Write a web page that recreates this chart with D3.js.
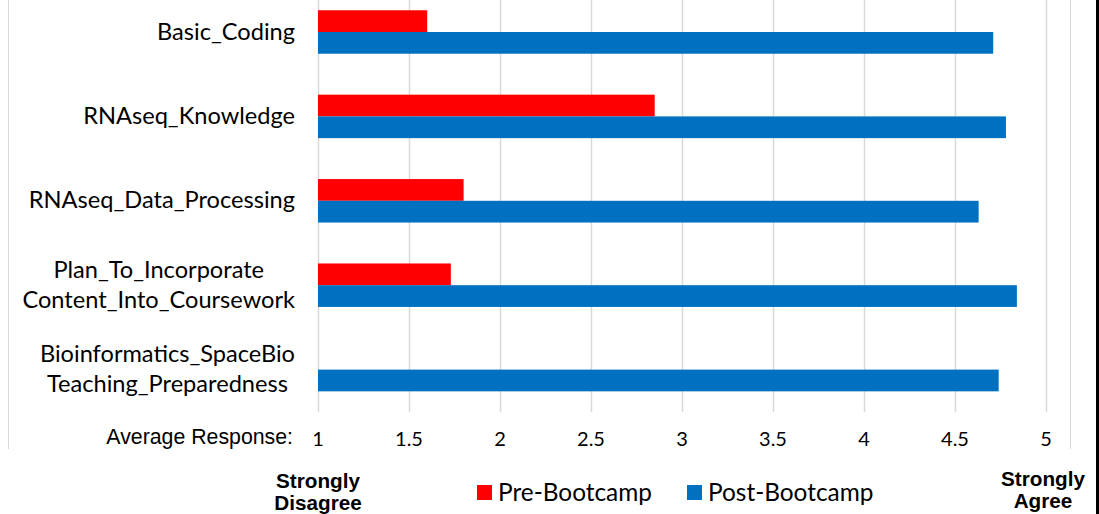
<!DOCTYPE html>
<meta charset="utf-8">
<style>
body { margin: 0; background: #fff; }
.cat { font-family: Lato, "Open Sans", sans-serif; font-size: 23.6px; fill: #000; }
.legend-text { font-family: Lato, "Open Sans", sans-serif; font-size: 24.4px; fill: #000; }
.tick-label { font-family: Lato, sans-serif; font-size: 20px; fill: #000; }
.note { font-family: "Liberation Sans", Arial, sans-serif; }
</style>
<svg width="1099" height="514"></svg>
<script src="https://d3js.org/d3.v7.min.js"></script>
<script>

// survey items, top to bottom
var categories = [
  ["Basic_Coding"],
  ["RNAseq_Knowledge"],
  ["RNAseq_Data_Processing"],
  ["Plan_To_Incorporate", "Content_Into_Coursework"],
  ["Bioinformatics_SpaceBio", "Teaching_Preparedness"]
];
var series = ["Pre-Bootcamp", "Post-Bootcamp"];
var preValues  = [1.6, 2.85, 1.8, 1.73, null];   // no pre score for the last item
var postValues = [4.71, 4.78, 4.63, 4.84, 4.74];
var ticks = [1, 1.5, 2, 2.5, 3, 3.5, 4, 4.5, 5];
var colors = ["#ff0000", "#0070c0"];

var svg = d3.select("svg");

var x = d3.scaleLinear().domain([1, 5]).range([318, 1046]);
var keys = categories.map(function(d) { return d.join(" "); });
var y = d3.scaleBand().domain(keys).range([-10.2, 411.8])
    .paddingInner(0.485).paddingOuter(0.2425);
var ySub = d3.scaleBand().domain(series).range([0, y.bandwidth()]);
var color = d3.scaleOrdinal().domain(series).range(colors);

// frame lines
svg.append("line").attr("x1", 8.5).attr("x2", 8.5).attr("y1", 0).attr("y2", 449)
    .attr("stroke", "#d9d9d9");
svg.append("line").attr("x1", 1070.5).attr("x2", 1070.5).attr("y1", 0).attr("y2", 449)
    .attr("stroke", "#d9d9d9");
svg.append("rect").attr("x", 1096).attr("y", 0).attr("width", 3).attr("height", 514)
    .attr("fill", "#000");

// gridlines
svg.append("g").selectAll("line")
  .data(ticks)
  .enter().append("line")
    .attr("x1", function(d) { return Math.round(x(d)) + 0.5; })
    .attr("x2", function(d) { return Math.round(x(d)) + 0.5; })
    .attr("y1", 0)
    .attr("y2", 412)
    .attr("stroke", "#d9d9d9")
    .attr("stroke-width", 1.5);

// bars
var rows = categories.map(function(c, i) {
  return { key: keys[i], values: [preValues[i], postValues[i]] };
});

var groups = svg.append("g").selectAll("g")
  .data(rows)
  .enter().append("g")
    .attr("transform", function(d) { return "translate(0," + y(d.key) + ")"; });

groups.selectAll("rect")
  .data(function(d) {
    return series.map(function(s, j) { return { s: s, v: d.values[j] }; })
      .filter(function(e) { return e.v != null; });
  })
  .enter().append("rect")
    .attr("x", x(1))
    .attr("y", function(d) { return ySub(d.s); })
    .attr("width", function(d) { return x(d.v) - x(1); })
    .attr("height", ySub.bandwidth())
    .attr("fill", function(d) { return color(d.s); });

// category labels (multi-line ones are centred within their block)
var labelRight = 295;
var labels = svg.append("g").selectAll("g")
  .data(categories)
  .enter().append("g");

labels.each(function(lines, i) {
  var g = d3.select(this);
  var cy = y(keys[i]) + y.bandwidth() / 2;
  var texts = g.selectAll("text").data(lines).enter().append("text")
      .attr("class", "cat")
      .attr("y", function(d, k) { return cy + 7.5 + (k - (lines.length - 1) / 2) * 30; })
      .text(function(d) { return d; });
  var w = 0;
  texts.each(function() { w = Math.max(w, this.getComputedTextLength()); });
  texts.attr("x", labelRight - w / 2).attr("text-anchor", "middle");
});

// x tick labels
svg.append("g").selectAll("text")
  .data(ticks)
  .enter().append("text")
    .attr("class", "tick-label")
    .attr("x", function(d) { return x(d); })
    .attr("y", 446)
    .attr("text-anchor", "middle")
    .text(function(d) { return d; });

svg.append("text")
    .attr("class", "note")
    .attr("x", 293)
    .attr("y", 444)
    .attr("text-anchor", "end")
    .attr("font-size", "21.3px")
    .text("Average Response:");

// scale end notes
function endNote(cx, y0, lines) {
  svg.append("g").selectAll("text")
    .data(lines)
    .enter().append("text")
      .attr("class", "note")
      .attr("x", cx)
      .attr("y", function(d, k) { return y0 + k * 22; })
      .attr("text-anchor", "middle")
      .attr("font-size", "20.7px")
      .attr("font-weight", "bold")
      .text(function(d) { return d; });
}
endNote(318, 488, ["Strongly", "Disagree"]);
endNote(1043, 486, ["Strongly", "Agree"]);

// legend
var legendX = [477, 687];
var legend = svg.append("g").selectAll("g")
  .data(series)
  .enter().append("g")
    .attr("transform", function(d, i) { return "translate(" + legendX[i] + ",485)"; });

legend.append("rect")
    .attr("width", 15)
    .attr("height", 15)
    .attr("fill", function(d) { return color(d); });

legend.append("text")
    .attr("class", "legend-text")
    .attr("x", 21)
    .attr("y", 15.5)
    .text(function(d) { return d; });

</script>
